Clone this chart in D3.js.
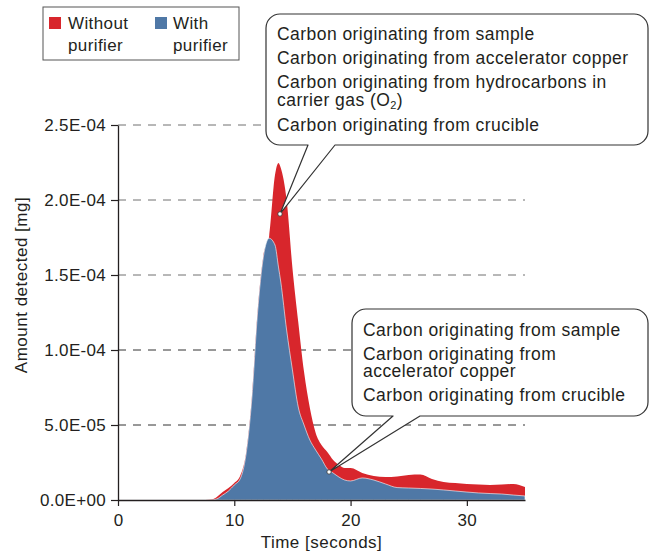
<!DOCTYPE html>
<html>
  <head>
    <meta charset="utf-8">
    <title>Carbon detected with and without purifier</title>
    <script src="https://d3js.org/d3.v7.min.js"></script>
    <style>
      body { margin: 0; background: #fff; }
      text { font-family: "Liberation Sans", Arial, sans-serif; fill: #231f20; }
    </style>
  </head>
  <body>
    <script>
      // data (amounts in units of 1E-05 mg)
      var unit = 1e-5;
      var times = [0, 7.5, 8, 8.5, 9, 9.5, 10, 10.5, 11, 11.5, 12, 12.5, 13, 13.5, 13.8, 14, 14.5, 15, 15.5, 16,
        16.5, 17, 17.5, 18, 18.5, 19, 19.5, 20, 21, 22, 23, 24, 25, 26, 27, 28, 29, 30, 31, 32, 33, 34, 35];
      var withoutPurifier = [0, 0, 0.03, 0.2, 0.53, 0.8, 1.13, 1.6, 3.07, 6.73, 12.53, 16.27, 17.6, 21.67, 22.47, 22.13,
        20.0, 15.47, 11.87, 8.53, 6.13, 4.47, 3.67, 3.2, 2.67, 2.33, 2.13, 2.13, 1.8, 1.6, 1.53, 1.57, 1.67, 1.7, 1.4,
        1.2, 1.13, 1.07, 1.03, 1.0, 1.03, 1.07, 0.87];
      var withPurifier = [0, 0, 0, 0.07, 0.33, 0.6, 1.0, 1.4, 3.0, 6.67, 12.47, 16.2, 17.45, 17.0, 15.53, 14.53,
        11.33, 8.67, 6.2, 5.0, 4.0, 3.33, 2.73, 2.07, 1.8, 1.53, 1.33, 1.27, 1.47, 1.33, 1.07, 0.83, 0.8, 0.77, 0.73,
        0.67, 0.6, 0.53, 0.47, 0.43, 0.4, 0.33, 0.27];
      var xTicks = [0, 10, 20, 30];
      var yTicks = [0, 5e-5, 1e-4, 1.5e-4, 2e-4, 2.5e-4];
      var seriesNames = ["Without purifier", "With purifier"];
      var withoutNotes = ["Carbon originating from sample", "Carbon originating from accelerator copper",
        "Carbon originating from hydrocarbons in", "carrier gas (O|2|)", "Carbon originating from crucible"];
      var withNotes = ["Carbon originating from sample", "Carbon originating from", "accelerator copper",
        "Carbon originating from crucible"];

      var red = "#d8262c", blue = "#4f78a6", ink = "#231f20";

      var width = 651, height = 553;
      var svg = d3.select("body").append("svg")
        .attr("width", width)
        .attr("height", height);

      var x = d3.scaleLinear().domain([0, 35]).range([118, 525]);
      var y = d3.scaleLinear().domain([0, 2.5e-4]).range([500, 125]);

      // 0.0E+00 style labels
      function sci(v) {
        if (v === 0) return "0.0E+00";
        var e = Math.floor(Math.log10(v) + 1e-9),
          m = v / Math.pow(10, e);
        return m.toFixed(1) + "E" + (e < 0 ? "-" : "+") + String(Math.abs(e)).padStart(2, "0");
      }

      // dashed gridlines (behind the areas)
      svg.append("g").selectAll("line")
        .data(yTicks.filter(function(d) { return d > 0; }))
        .enter().append("line")
          .attr("x1", x(0)).attr("x2", x(35))
          .attr("y1", function(d) { return y(d); })
          .attr("y2", function(d) { return y(d); })
          .attr("stroke", function(d) { return d >= 1.5e-4 ? "#707070" : "#333"; })
          .attr("stroke-width", 1)
          .attr("stroke-dasharray", "8,7");

      var rows = times.map(function(t, i) {
        return { t: t, a: withoutPurifier[i] * unit, b: withPurifier[i] * unit };
      });

      function area(key) {
        return d3.area()
          .curve(d3.curveMonotoneX)
          .x(function(d) { return x(d.t); })
          .y0(y(0))
          .y1(function(d) { return y(d[key]); });
      }

      svg.append("path").datum(rows)
        .attr("d", area("a"))
        .attr("fill", red);
      svg.append("path").datum(rows)
        .attr("d", area("b"))
        .attr("fill", blue)
        .attr("stroke", "#fff")
        .attr("stroke-width", 0.6);

      // axes
      var yAxis = svg.append("g")
        .attr("transform", "translate(" + x(0) + ",0)")
        .call(d3.axisLeft(y).tickValues(yTicks).tickFormat(sci).tickSize(7).tickSizeOuter(0).tickPadding(5));
      var xAxis = svg.append("g")
        .attr("transform", "translate(0," + y(0) + ")")
        .call(d3.axisBottom(x).tickValues(xTicks).tickSize(6).tickSizeOuter(0).tickPadding(5));

      [yAxis, xAxis].forEach(function(g) {
        g.select(".domain").attr("stroke", ink).attr("stroke-width", 1.3);
        g.selectAll(".tick line").attr("stroke", ink).attr("stroke-width", 1.2);
        g.selectAll(".tick text")
          .style("font-size", "17px")
          .style("letter-spacing", "0.3px")
          .attr("fill", ink);
      });
      xAxis.selectAll(".tick text").attr("dy", "0.9em");

      svg.append("text")
        .attr("x", (x(0) + x(35)) / 2)
        .attr("y", 548)
        .attr("text-anchor", "middle")
        .style("font-size", "17px")
        .style("letter-spacing", "0.5px")
        .text("Time [seconds]");

      svg.append("text")
        .attr("transform", "translate(27,285) rotate(-90)")
        .attr("text-anchor", "middle")
        .style("font-size", "17px")
        .style("letter-spacing", "0.5px")
        .text("Amount detected [mg]");

      // legend
      var legend = svg.append("g");
      legend.append("rect")
        .attr("x", 43).attr("y", 7).attr("width", 196).attr("height", 53)
        .attr("fill", "#fff").attr("stroke", "#555").attr("stroke-width", 1);
      [[49, 68, red], [155, 173, blue]].forEach(function(p, i) {
        legend.append("rect")
          .attr("x", p[0]).attr("y", 17).attr("width", 12).attr("height", 12)
          .attr("fill", p[2]);
        var words = seriesNames[i].split(" ");
        legend.append("text")
          .attr("x", p[1]).attr("y", 29)
          .style("font-size", "17px").style("letter-spacing", "0.4px")
          .text(words[0]);
        legend.append("text")
          .attr("x", p[1]).attr("y", 51)
          .style("font-size", "17px").style("letter-spacing", "0.4px")
          .text(words[1]);
      });

      // speech-bubble callouts
      function bubble(box, base, tip, lines, baselines) {
        var x0 = box[0], y0 = box[1], x1 = box[2], y1 = box[3], r = 14;
        var p = d3.path();
        p.moveTo(x0 + r, y0);
        p.lineTo(x1 - r, y0);
        p.arcTo(x1, y0, x1, y0 + r, r);
        p.lineTo(x1, y1 - r);
        p.arcTo(x1, y1, x1 - r, y1, r);
        p.lineTo(base[1], y1);
        p.lineTo(tip[0], tip[1]);
        p.lineTo(base[0], y1);
        p.lineTo(x0 + r, y1);
        p.arcTo(x0, y1, x0, y1 - r, r);
        p.lineTo(x0, y0 + r);
        p.arcTo(x0, y0, x0 + r, y0, r);
        p.closePath();

        var g = svg.append("g");
        g.append("path")
          .attr("d", p.toString())
          .attr("fill", "#fff")
          .attr("stroke", "#333")
          .attr("stroke-width", 1.2)
          .attr("stroke-linejoin", "round");
        g.append("circle")
          .attr("cx", tip[0]).attr("cy", tip[1]).attr("r", 2.2)
          .attr("fill", "#fff").attr("stroke", "#333").attr("stroke-width", 0.8);

        lines.forEach(function(line, i) {
          var t = g.append("text")
            .attr("x", x0 + 11)
            .attr("y", y0 + baselines[i])
            .style("font-size", "17.5px")
            .style("letter-spacing", "0.45px");
          var parts = line.split("|");
          t.append("tspan").text(parts[0]);
          if (parts.length > 1) {
            t.append("tspan").attr("dy", 3).style("font-size", "11px").text(parts[1]);
            t.append("tspan").attr("dy", -3).text(parts[2]);
          }
        });
      }

      bubble([266, 14, 648, 145], [308, 335], [x(13.93), y(1.907e-4)], withoutNotes, [26, 50, 74, 92, 117]);
      bubble([352, 309, 648, 416], [393, 420], [x(18.15), y(1.87e-5)], withNotes, [27, 51, 68, 92]);
    </script>
  </body>
</html>
